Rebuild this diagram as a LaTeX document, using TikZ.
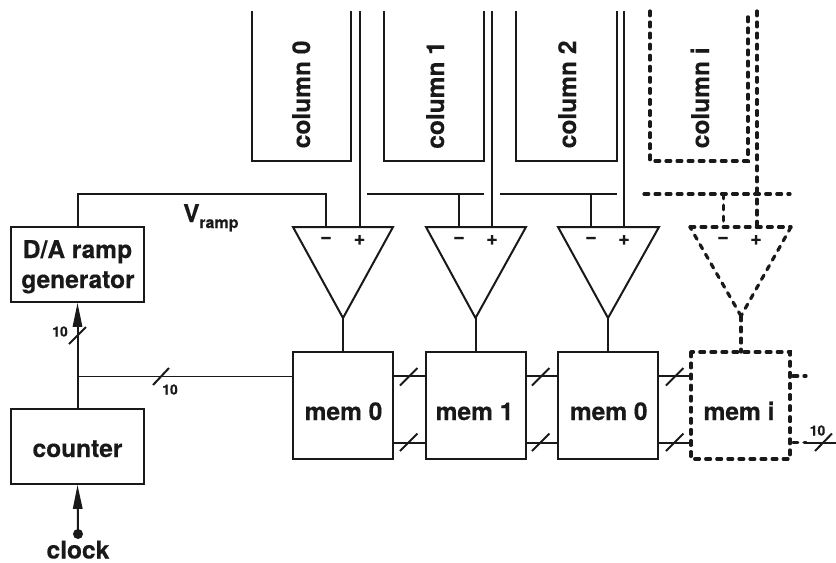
\documentclass[tikz,border=0pt]{standalone}
\usepackage{fontspec}
\setmainfont[BoldFeatures={FakeBold=0.35}]{TeX Gyre Heros}
\usetikzlibrary{arrows.meta}
\tikzset{
  x=0.75pt,y=-0.75pt,
  wire/.style={line width=1.5pt,draw=black!90},
  thinwire/.style={line width=1.35pt,draw=black!90},
  dwire/.style={line width=2.4pt,draw=black!90,line cap=round,dash pattern=on 3.6pt off 4.7pt},
  blockbox/.style={wire,rectangle,inner sep=0pt},
  lab/.style={font=\bfseries\fontsize{18.4}{22}\selectfont,text=black!90,inner sep=0pt,anchor=base},
  small/.style={font=\bfseries\fontsize{10.5}{12}\selectfont,text=black!90,inner sep=0pt},
  sign/.style={font=\bfseries\fontsize{15}{15}\selectfont,text=black!90,inner sep=0pt},
  arr/.style={-{Triangle[length=18pt,width=7pt]}},
}
\begin{document}
\begin{tikzpicture}
\useasboundingbox (0,0) rectangle (836,562);
% blocks
\node[blockbox,draw,minimum width=99.5pt,minimum height=56pt] (da) at (77.5,264.5) {};
\node[lab] (dat1) at (77.5,258) {D/A ramp};
\node[lab] (dat2) at (78,288) {generator};
\node[blockbox,draw,minimum width=99.5pt,minimum height=56pt] (cnt) at (77.5,446.5) {};
\node[lab] (cntt) at (77.5,457) {counter};
\foreach \n/\x/\lx/\t in {m0/343/343.5/mem 0,m1/475.5/474.5/mem 1,m2/608/608.7/mem 0}{
  \node[blockbox,draw,minimum width=75pt,minimum height=80pt] (\n) at (\x,405.5) {};
  \node[lab] (\n t) at (\lx,420) {\t};
}
\node[lab] (mi) at (739,420) {mem i};
\draw[dwire] (691,352) rectangle (790,459);
% columns
\foreach \a/\b in {252/351,384/484,516/617}{
  \draw[wire] (\a,11) -- (\a,161) -- (\b,161) -- (\b,11);
}
\draw[dwire] (650,11) -- (650,161) -- (748,161) -- (748,11);
\node[lab,anchor=base west,rotate=90] (c0) at (310,148.5) {column 0};
\node[lab,anchor=base west,rotate=90] (c1) at (444,149) {column 1};
\node[lab,anchor=base west,rotate=90] (c2) at (576,148.5) {column 2};
\node[lab,anchor=base west,rotate=90] (ci) at (709,148.5) {column i};
% comparators
\foreach \l/\r/\ap/\mm/\pp in {293/393/343/326/359.5,426/526/475.5/459/492,558/659/608/591/624}{
  \draw[wire,line join=miter] (\l,227) -- (\r,227) -- (\ap,318) -- cycle;
  \draw[wire] (\ap,318) -- (\ap,352);
  \draw[wire] (\pp,11) -- (\pp,227);
  \node[sign] at (\mm,240) {−};
  \node[sign] at (\pp,240) {+};
}
\draw[dwire] (690,227) -- (791,227);
\draw[dwire] (791,227) -- (741,316);
\draw[dwire] (741,316) -- (690,227);
\draw[dwire] (741,316) -- (741,352);
\draw[dwire] (757,11) -- (757,227);
\draw[dwire] (723.5,194) -- (723.5,227);
\node[sign] at (723,240) {−};
\node[sign] at (756,240) {+};
% ramp
\draw[wire] (da.north) |- (326,194) -- (326,227);
\draw[wire] (367,194) -- (484,194);
\draw[wire] (500,194) -- (617,194);
\draw[wire] (459,194) -- (459,227);
\draw[wire] (591,194) -- (591,227);
\draw[dwire] (644,194) -- (790,194);
\node[lab,anchor=base west] (v) at (183,222) {V};
\node[inner sep=0pt,anchor=base west,text=black!90,font=\bfseries\fontsize{12}{14}\selectfont] (vs) at (199,228) {ramp};
% counter bus
\coordinate (j) at (78,376.5);
\draw[wire,arr] (cnt.north) -- (da.south);
\draw[thinwire] (j) -- (m0.west |- j);
\draw[wire] (69,344) -- (86,327);
\draw[wire] (153,385) -- (169,368);
\node[small] (n1) at (60,331.5) {10};
\node[small] (n2) at (170,389.5) {10};
% clock
\coordinate (ck) at (78,534);
\fill[black!90] (ck) circle (3.75pt);
\draw[wire,arr] (ck) -- (cnt.south);
\node[lab] (clk) at (78,558.5) {clock};
% memory links
\foreach \x/\a/\b in {400/393/426,532/525.5/558,666/658/691}{
  \draw[thinwire] (\a,376) -- (\b,376);
  \draw[wire] (\a,442.5) -- (\b,442.5);
  \draw[wire] (\x,385.5) -- (\x+17.5,368);
  \draw[wire] (\x,451) -- (\x+17.5,433.5);
}
\draw[dwire] (793,376) -- (806,376);
\draw[dwire] (793,442.5) -- (806,442.5);
\draw[wire] (806,442.5) -- (836,442.5);
\draw[wire] (815,451) -- (832,433.5);
\node[small] (n3) at (817.5,430.5) {10};
\end{tikzpicture}
\end{document}
